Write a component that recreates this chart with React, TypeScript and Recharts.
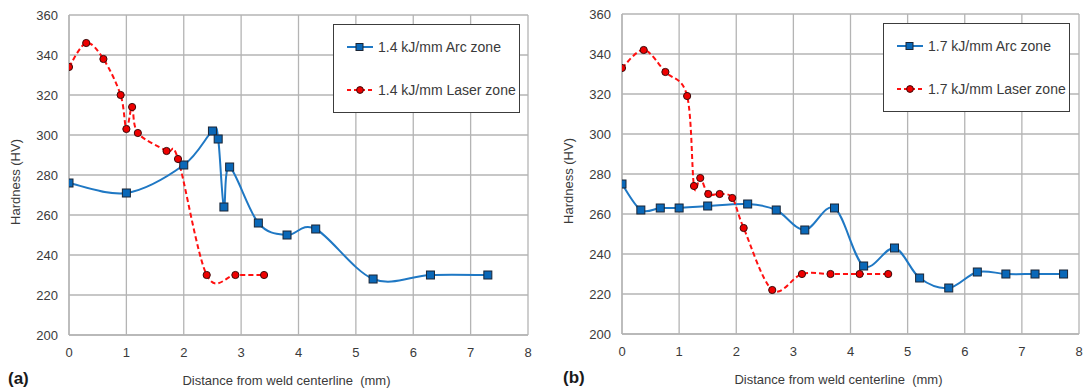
import React from "react";
import { LineChart, Line, XAxis, YAxis, CartesianGrid, Legend, Label } from "recharts";

// ---------- data ----------
const arcXA = [0, 1, 2, 2.5, 2.6, 2.7, 2.8, 3.3, 3.8, 4.3, 5.3, 6.3, 7.3];
const arcHVA = [276, 271, 285, 302, 298, 264, 284, 256, 250, 253, 228, 230, 230];
const laserXA = [0, 0.3, 0.6, 0.9, 1.0, 1.1, 1.2, 1.7, 1.9, 2.4, 2.9, 3.4];
const laserHVA = [334, 346, 338, 320, 303, 314, 301, 292, 288, 230, 230, 230];

const arcXB = [0, 0.33, 0.67, 1.0, 1.5, 2.2, 2.7, 3.2, 3.72, 4.23, 4.77, 5.21, 5.72, 6.22, 6.72, 7.23, 7.73];
const arcHVB = [275, 262, 263, 263, 264, 265, 262, 252, 263, 234, 243, 228, 223, 231, 230, 230, 230];
const laserXB = [0, 0.38, 0.76, 1.14, 1.26, 1.37, 1.51, 1.71, 1.93, 2.13, 2.63, 3.15, 3.65, 4.16, 4.66];
const laserHVB = [333, 342, 331, 319, 274, 278, 270, 270, 268, 253, 222, 230, 230, 230, 230];

const xTicks = [0, 1, 2, 3, 4, 5, 6, 7, 8];
const yTicks = [200, 220, 240, 260, 280, 300, 320, 340, 360];

const seriesNamesA = ["1.4 kJ/mm Arc zone", "1.4 kJ/mm Laser zone"];
const seriesNamesB = ["1.7 kJ/mm Arc zone", "1.7 kJ/mm Laser zone"];
const xTitle = "Distance from weld centerline\u00a0\u00a0(mm)";
const yTitle = "Hardness (HV)";

const zip = (xs: number[], ys: number[]) => xs.map((x, i) => ({ x, y: ys[i] }));

// ---------- styles ----------
const FONT = "'Liberation Sans', Arial, sans-serif";
const BLUE = "#1f78c4";
const BLUE_FILL = "#0a68b8";
const RED = "#ff1010";
const RED_FILL = "#ee0000";
const GRID = "#b4b4b4";
const TEXT = "#3a3a3a";

// Excel-like smooth curve (Catmull-Rom style)
const smoothCurve: any = (context: any) => {
  let xs: number[] = [];
  let ys: number[] = [];
  return {
    areaStart() {},
    areaEnd() {},
    lineStart() {
      xs = [];
      ys = [];
    },
    point(x: number, y: number) {
      xs.push(+x);
      ys.push(+y);
    },
    lineEnd() {
      const n = xs.length;
      if (!n) return;
      context.moveTo(xs[0], ys[0]);
      if (n === 1) return;
      for (let i = 0; i < n - 1; i++) {
        const p0 = i > 0 ? i - 1 : i;
        const p3 = i + 2 < n ? i + 2 : i + 1;
        const c1x = xs[i] + (xs[i + 1] - xs[p0]) / 6;
        const c1y = ys[i] + (ys[i + 1] - ys[p0]) / 6;
        const c2x = xs[i + 1] - (xs[p3] - xs[i]) / 6;
        const c2y = ys[i + 1] - (ys[p3] - ys[i]) / 6;
        context.bezierCurveTo(c1x, c1y, c2x, c2y, xs[i + 1], ys[i + 1]);
      }
    },
  };
};

const squareDot = (props: any) => {
  const { cx, cy, index } = props;
  if (cx == null || cy == null) return <g key={`s-${index}`} />;
  return (
    <rect key={`s-${index}`} x={cx - 4} y={cy - 4} width={8} height={8} fill={BLUE_FILL} stroke="#1a2535" strokeWidth={1} />
  );
};

const circleDot = (props: any) => {
  const { cx, cy, index } = props;
  if (cx == null || cy == null) return <g key={`c-${index}`} />;
  return <circle key={`c-${index}`} cx={cx} cy={cy} r={3.6} fill={RED_FILL} stroke="#3a0a0a" strokeWidth={1} />;
};

const makeLegend = (names: string[]) => () => (
  <div
    style={{
      boxSizing: "border-box",
      width: 187,
      height: 89,
      border: "1.5px solid #3c3c3c",
      background: "#fff",
      fontFamily: FONT,
      fontSize: 14,
      color: TEXT,
      position: "relative",
    }}
  >
    {names.map((n, i) => (
      <div key={n} style={{ position: "absolute", left: 13, top: i === 0 ? 13 : 56, height: 18, display: "flex", alignItems: "center" }}>
        <svg width={28} height={12} style={{ display: "block" }}>
          {i === 0 ? (
            <>
              <line x1={0} y1={6} x2={26} y2={6} stroke={BLUE} strokeWidth={2} />
              <rect x={9} y={2.5} width={7} height={7} fill={BLUE_FILL} stroke="#1a2535" strokeWidth={1} />
            </>
          ) : (
            <>
              <line x1={0} y1={6} x2={26} y2={6} stroke={RED} strokeWidth={2} strokeDasharray="4 3" />
              <circle cx={13} cy={6} r={3.4} fill={RED_FILL} stroke="#3a0a0a" strokeWidth={1} />
            </>
          )}
        </svg>
        <span style={{ marginLeft: 3, whiteSpace: "nowrap" }}>{n}</span>
      </div>
    ))}
  </div>
);

const tickStyle = { fill: TEXT, fontSize: 13, fontFamily: FONT };

type PanelProps = {
  arc: { x: number; y: number }[];
  laser: { x: number; y: number }[];
  names: string[];
  letter: string;
  width: number;
  margin: any;
  xAxisHeight: number;
  legendLeft: number;
  legendTop: number;
  letterX: number;
};

const Panel = ({ arc, laser, names, letter, width, margin, xAxisHeight, legendLeft, legendTop, letterX }: PanelProps) => (
  <LineChart width={width} height={389} margin={margin}>
    <CartesianGrid stroke={GRID} strokeWidth={1.3} />
    <XAxis
      type="number"
      dataKey="x"
      domain={[0, 8]}
      ticks={xTicks}
      allowDataOverflow
      tickLine={false}
      tickSize={0}
      tickMargin={13}
      axisLine={{ stroke: GRID, strokeWidth: 1.3 }}
      tick={tickStyle}
      height={xAxisHeight}
    >
      <Label
        content={(p: any) => {
          const vb = p.viewBox || { x: 0, y: 0, width: 0 };
          return (
            <text
              x={vb.x + vb.width / 2 - 12}
              y={vb.y + 45}
              textAnchor="middle"
              dominantBaseline="central"
              fill={TEXT}
              fontSize={13}
              fontFamily={FONT}
              style={{ whiteSpace: "pre" }}
            >
              {xTitle}
            </text>
          );
        }}
      />
      <Label
        content={(p: any) => {
          const vb = p.viewBox || { x: 0, y: 0 };
          return (
            <text x={letterX} y={vb.y + 43} dominantBaseline="central" fill="#1a1a1a" fontSize={17} fontWeight="bold" fontFamily={FONT}>
              {letter}
            </text>
          );
        }}
      />
    </XAxis>
    <YAxis
      type="number"
      domain={[200, 360]}
      ticks={yTicks}
      allowDataOverflow
      tickLine={false}
      tickSize={0}
      tickMargin={11}
      axisLine={{ stroke: GRID, strokeWidth: 1.3 }}
      tick={tickStyle}
      width={69}
    >
      <Label
        content={(p: any) => {
          const vb = p.viewBox || { x: 0, y: 0, height: 0 };
          const cx = vb.x + 15;
          const cy = vb.y + vb.height / 2 + 7;
          return (
            <text
              x={cx}
              y={cy}
              transform={`rotate(-90 ${cx} ${cy})`}
              textAnchor="middle"
              dominantBaseline="central"
              fill={TEXT}
              fontSize={13}
              fontFamily={FONT}
            >
              {yTitle}
            </text>
          );
        }}
      />
    </YAxis>
    <Legend
      layout="horizontal"
      verticalAlign="middle"
      align="center"
      wrapperStyle={{ left: legendLeft, top: legendTop, width: 187 }}
      content={makeLegend(names)}
    />
    <Line
      data={arc}
      dataKey="y"
      name={names[0]}
      type={smoothCurve}
      stroke={BLUE}
      strokeWidth={2}
      dot={squareDot}
      activeDot={false}
      isAnimationActive={false}
    />
    <Line
      data={laser}
      dataKey="y"
      name={names[1]}
      type={smoothCurve}
      stroke={RED}
      strokeWidth={2}
      strokeDasharray="5 3"
      dot={circleDot}
      activeDot={false}
      isAnimationActive={false}
    />
  </LineChart>
);

export default function App() {
  return (
    <div style={{ position: "absolute", left: 0, top: 0, width: 1085, height: 389, background: "#fff", overflow: "hidden" }}>
      <div style={{ position: "absolute", left: 0, top: 0 }}>
        <Panel
          arc={zip(arcXA, arcHVA)}
          laser={zip(laserXA, laserHVA)}
          names={seriesNamesA}
          letter="(a)"
          width={540}
          margin={{ top: 15, right: 12, bottom: 24, left: 0 }}
          xAxisHeight={30}
          legendLeft={333}
          legendTop={24}
          letterX={8}
        />
      </div>
      <div style={{ position: "absolute", left: 553, top: 0 }}>
        <Panel
          arc={zip(arcXB, arcHVB)}
          laser={zip(laserXB, laserHVB)}
          names={seriesNamesB}
          letter="(b)"
          width={532}
          margin={{ top: 14, right: 6, bottom: 24, left: 0 }}
          xAxisHeight={31}
          legendLeft={330}
          legendTop={23}
          letterX={10}
        />
      </div>
    </div>
  );
}
